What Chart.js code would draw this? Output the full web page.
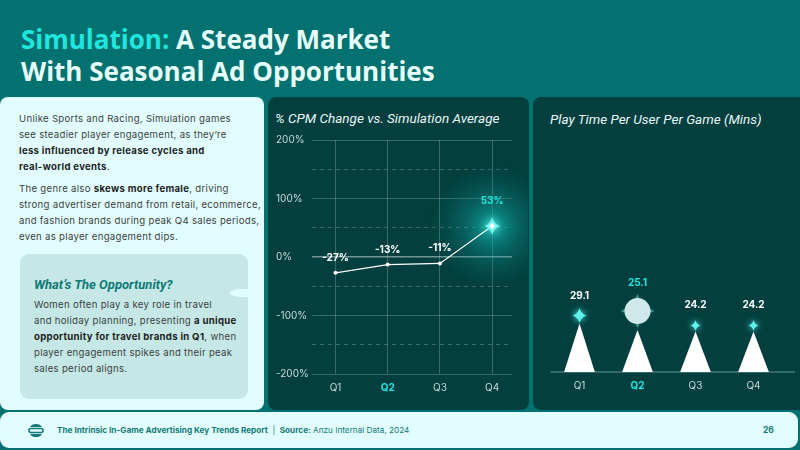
<!DOCTYPE html>
<html>
<head>
<meta charset="utf-8">
<script src="https://cdn.jsdelivr.net/npm/chart.js@4.4.1/dist/chart.umd.min.js"></script>
<style>
html, body { margin: 0; padding: 0; }
body {
    width: 800px; height: 450px; overflow: hidden; position: relative;
    background: #03716f; font-family: Inter, "Noto Sans", sans-serif;
}
.title {
    position: absolute; left: 21px; top: 23px; margin: 0;
    font-family: "Open Sans", sans-serif; font-weight: 700; font-size: 26px; line-height: 32px;
    color: #e6fffc;
}
.title .hl { color: #1fe7de; }
.panel { position: absolute; border-radius: 8px; }
.light { background: #e2fdfd; }
.dark { background: #033f3f; }
#textPanel { left: 0; top: 97px; width: 264px; height: 313px; }
#cpmPanel { left: 268px; top: 97px; width: 261px; height: 313px; }
#playPanel { left: 533px; top: 97px; width: 275px; height: 313px; }
.body-text { position: absolute; left: 19px; top: 14px; width: 245px; font-size: 9.6px; letter-spacing: 0.3px; line-height: 16px; color: #3a3f3f; white-space: nowrap; }
.body-text p { margin: 0 0 6px 0; }
.body-text b { color: #1c1f1f; font-weight: 700; }
#oppBox { position: absolute; left: 20px; top: 157px; width: 228px; height: 145px; background: #c5e7e5; border-radius: 9px; }
#notch { position: absolute; left: 230px; top: 192px; width: 20px; height: 8px; background: #e2fdfd; border-radius: 12px 0 0 12px / 4px 0 0 4px; }
#oppBox h3 { position: absolute; left: 14px; top: 22px; margin: 0; font-family: Roboto, sans-serif; font-style: italic; font-weight: 700; font-size: 13px; line-height: 18px; color: #0e7a77; }
#oppBox .opp-text { position: absolute; left: 14px; top: 43px; width: 214px; font-size: 9.6px; letter-spacing: 0.3px; line-height: 16px; color: #3a3f3f; white-space: nowrap; }
#oppBox b { color: #1c1f1f; }
.chart-title { position: absolute; font-family: Roboto, sans-serif; font-style: italic; font-size: 13.5px; color: #e9f6f5; }
canvas { position: absolute; }
#footer { position: absolute; left: 0; top: 412px; width: 798px; height: 36px; background: #e2fdfd; border-radius: 9px; }
#footer .ftext { position: absolute; left: 57px; top: 12px; font-size: 8.2px; line-height: 12px; color: #137a78; white-space: nowrap; }
#footer .ftext b { font-weight: 700; }
#footer .page { position: absolute; left: 763px; top: 12px; font-size: 8.5px; line-height: 12px; font-weight: 700; color: #137a78; }
#logo { position: absolute; left: 28px; top: 11px; }
</style>
</head>
<body>
<h1 class="title"><span class="hl">Simulation:</span> A Steady Market<br>With Seasonal Ad Opportunities</h1>

<div class="panel light" id="textPanel">
    <div class="body-text">
        <p>Unlike Sports and Racing, Simulation games<br>see steadier player engagement, as they’re<br><b>less influenced by release cycles and<br>real-world events</b>.</p>
        <p>The genre also <b>skews more female</b>, driving<br>strong advertiser demand from retail, ecommerce,<br>and fashion brands during peak Q4 sales periods,<br>even as player engagement dips.</p>
    </div>
    <div id="oppBox">
        <h3>What’s The Opportunity?</h3>
        <div class="opp-text">Women often play a key role in travel<br>and holiday planning, presenting <b>a unique<br>opportunity for travel brands in Q1</b>, when<br>player engagement spikes and their peak<br>sales period aligns.</div>
    </div>
    <div id="notch"></div>
</div>

<div class="panel dark" id="cpmPanel">
    <div class="chart-title" style="left:7px; top:13px;">% CPM Change vs. Simulation Average</div>
</div>
<div class="panel dark" id="playPanel">
    <div class="chart-title" style="left:17px; top:14px;">Play Time Per User Per Game (Mins)</div>
</div>
<canvas id="cpmChart" width="260" height="275" style="left:268px; top:125px;"></canvas>
<canvas id="playChart" width="267" height="275" style="left:533px; top:125px;"></canvas>

<div id="footer">
    <svg id="logo" width="16" height="15" viewBox="0 0 16 15">
        <path d="M2 4 A6.5 5 0 0 1 14 4 Z" fill="#137a78"/>
        <rect x="1" y="5.5" width="14" height="4" rx="2" fill="none" stroke="#137a78" stroke-width="1.6"/>
        <path d="M2 11 A6.5 5 0 0 0 14 11 Z" fill="#137a78"/>
    </svg>
    <div class="ftext"><b>The Intrinsic In-Game Advertising Key Trends Report</b> &nbsp;|&nbsp; <b>Source:</b> Anzu Internal Data, 2024</div>
    <div class="page">26</div>
</div>

<script>
// Data
const quarters = ["Q1", "Q2", "Q3", "Q4"];
const cpmChange = [-27, -13, -11, 53];        // % vs. simulation average
const playTime = [29.1, 25.1, 24.2, 24.2];    // minutes per user per game
const cpmTickValues = [-200, -100, 0, 100, 200];
const highlightQuarter = "Q2";

const CYAN = "#20e6de";
const TICK_GREY = "#c6dad9";
const GRID = "rgba(255,255,255,0.22)";
const FONT = "Inter, 'Noto Sans', sans-serif";

Chart.defaults.font.family = FONT;
Chart.defaults.animation = false;

// 4-point sparkle
function drawStar(ctx, x, y, rx, ry, color, blur) {
    const k = 0.22;
    ctx.save();
    ctx.shadowColor = color;
    ctx.shadowBlur = blur;
    ctx.fillStyle = color;
    ctx.beginPath();
    ctx.moveTo(x, y - ry);
    ctx.quadraticCurveTo(x + rx * k, y - ry * k, x + rx, y);
    ctx.quadraticCurveTo(x + rx * k, y + ry * k, x, y + ry);
    ctx.quadraticCurveTo(x - rx * k, y + ry * k, x - rx, y);
    ctx.quadraticCurveTo(x - rx * k, y - ry * k, x, y - ry);
    ctx.fill();
    ctx.restore();
}

function quarterTickColor(ctx) {
    return quarters[ctx.index] === highlightQuarter ? CYAN : TICK_GREY;
}
function quarterTickFont(ctx) {
    const hl = quarters[ctx.index] === highlightQuarter;
    return { family: FONT, size: 10, weight: hl ? "bold" : "normal" };
}

// Chart 1: CPM line
const cpmMax = Math.max(...cpmChange);
const cpmPlugin = {
    id: "cpmDecor",
    beforeDatasetsDraw(chart) {
        const ctx = chart.ctx;
        const pt = chart.getDatasetMeta(0).data[cpmChange.indexOf(cpmMax)];
        const g = ctx.createRadialGradient(pt.x, pt.y, 0, pt.x, pt.y, 62);
        g.addColorStop(0, "rgba(20,200,190,0.75)");
        g.addColorStop(0.45, "rgba(15,160,155,0.35)");
        g.addColorStop(1, "rgba(10,120,115,0)");
        ctx.save();
        ctx.fillStyle = g;
        ctx.fillRect(pt.x - 62, pt.y - 62, 124, 124);
        ctx.restore();
    },
    afterDatasetsDraw(chart) {
        const ctx = chart.ctx;
        const meta = chart.getDatasetMeta(0);
        ctx.save();
        ctx.textAlign = "center";
        ctx.textBaseline = "middle";
        ctx.font = "bold 10px " + FONT;
        meta.data.forEach((pt, i) => {
            const v = cpmChange[i];
            const top = v === cpmMax;
            if (top) {
                drawStar(ctx, pt.x, pt.y, 8, 9, "#6ff7f0", 8);
                drawStar(ctx, pt.x, pt.y, 3, 3.5, "#ffffff", 2);
            }
            ctx.fillStyle = top ? CYAN : "#ffffff";
            ctx.fillText(v + "%", pt.x, pt.y - (top ? 25 : 15));
        });
        ctx.restore();
    }
};

new Chart(document.getElementById("cpmChart"), {
    type: "line",
    data: {
        datasets: [{
            data: cpmChange.map((v, i) => ({ x: i, y: v })),
            borderColor: "#ffffff",
            borderWidth: 1.2,
            pointRadius: cpmChange.map(v => v === cpmMax ? 0 : 2),
            pointBackgroundColor: "#ffffff",
            pointBorderWidth: 0,
            tension: 0
        }]
    },
    options: {
        responsive: false,
        layout: { padding: { left: 8, right: 16, top: 15, bottom: 6 } },
        plugins: { legend: { display: false }, tooltip: { enabled: false } },
        scales: {
            x: {
                type: "linear",
                min: -0.45,
                max: 3.38,
                afterBuildTicks: s => { s.ticks = quarters.map((q, i) => ({ value: i })); },
                afterFit: s => { s.height = 20; },
                grid: { color: GRID, drawTicks: false },
                border: { display: false },
                ticks: {
                    padding: 8,
                    callback: v => quarters[v],
                    color: quarterTickColor,
                    font: quarterTickFont
                }
            },
            y: {
                min: cpmTickValues[0],
                max: cpmTickValues[cpmTickValues.length - 1],
                afterFit: s => { s.width = 36; },
                grid: {
                    drawTicks: false,
                    color: c => (c.tick && c.tick.value === 0) ? "rgba(255,255,255,0.45)" : GRID,
                    lineWidth: c => (c.tick && c.tick.value === 0) ? 1.6 : 1
                },
                border: {
                    display: false,
                    dash: c => (c.tick && !cpmTickValues.includes(c.tick.value)) ? [4, 4] : []
                },
                ticks: {
                    stepSize: 50,
                    crossAlign: "far",
                    padding: 4,
                    color: TICK_GREY,
                    font: { size: 10 },
                    callback: v => cpmTickValues.includes(v) ? v + "%" : ""
                }
            }
        }
    },
    plugins: [cpmPlugin]
});

// Chart 2: play time "triangle" bars
const playMax = Math.max(...playTime);
const trianglePlugin = {
    id: "triangles",
    afterDatasetsDraw(chart) {
        const ctx = chart.ctx;
        const area = chart.chartArea;
        const meta = chart.getDatasetMeta(0);
        ctx.save();
        ctx.strokeStyle = "rgba(150,190,190,0.45)";
        ctx.lineWidth = 1.5;
        ctx.beginPath();
        ctx.moveTo(area.left, area.bottom);
        ctx.lineTo(chart.width - 5, area.bottom);
        ctx.stroke();

        ctx.textAlign = "center";
        ctx.textBaseline = "middle";
        ctx.font = "bold 10px " + FONT;
        meta.data.forEach((bar, i) => {
            const half = bar.width / 2;
            ctx.fillStyle = "#ffffff";
            ctx.beginPath();
            ctx.moveTo(bar.x - half, bar.base);
            ctx.lineTo(bar.x, bar.y);
            ctx.lineTo(bar.x + half, bar.base);
            ctx.closePath();
            ctx.fill();

            const hl = quarters[i] === highlightQuarter;
            let labelY;
            if (hl) {
                const cy = bar.y - 19;
                drawStar(ctx, bar.x, cy, 17, 17, "rgba(120,230,225,0.5)", 4);
                ctx.fillStyle = "#cfe8ea";
                ctx.beginPath();
                ctx.arc(bar.x, cy, 13, 0, Math.PI * 2);
                ctx.fill();
                labelY = cy - 28;
            } else {
                const big = playTime[i] === playMax;
                const sy = bar.y - (big ? 8 : 6);
                drawStar(ctx, bar.x, sy, big ? 7 : 5, big ? 7.5 : 5.5, "#5ff3ec", 6);
                labelY = bar.y - 27;
            }
            ctx.fillStyle = hl ? CYAN : "#ffffff";
            ctx.fillText(playTime[i].toFixed(1), bar.x, labelY);
        });
        ctx.restore();
    }
};

new Chart(document.getElementById("playChart"), {
    type: "bar",
    data: {
        labels: quarters,
        datasets: [{
            data: playTime,
            backgroundColor: "rgba(0,0,0,0)",
            categoryPercentage: 1,
            barPercentage: 0.53
        }]
    },
    options: {
        responsive: false,
        layout: { padding: { left: 17.5, right: 17.5, top: 80, bottom: 8 } },
        plugins: { legend: { display: false }, tooltip: { enabled: false } },
        scales: {
            x: {
                afterFit: s => { s.height = 20; },
                grid: { display: false, drawTicks: false },
                border: { display: false },
                ticks: { padding: 8, color: quarterTickColor, font: quarterTickFont }
            },
            y: { display: false, min: 0, max: 100 }
        }
    },
    plugins: [trianglePlugin]
});
</script>
</body>
</html>
